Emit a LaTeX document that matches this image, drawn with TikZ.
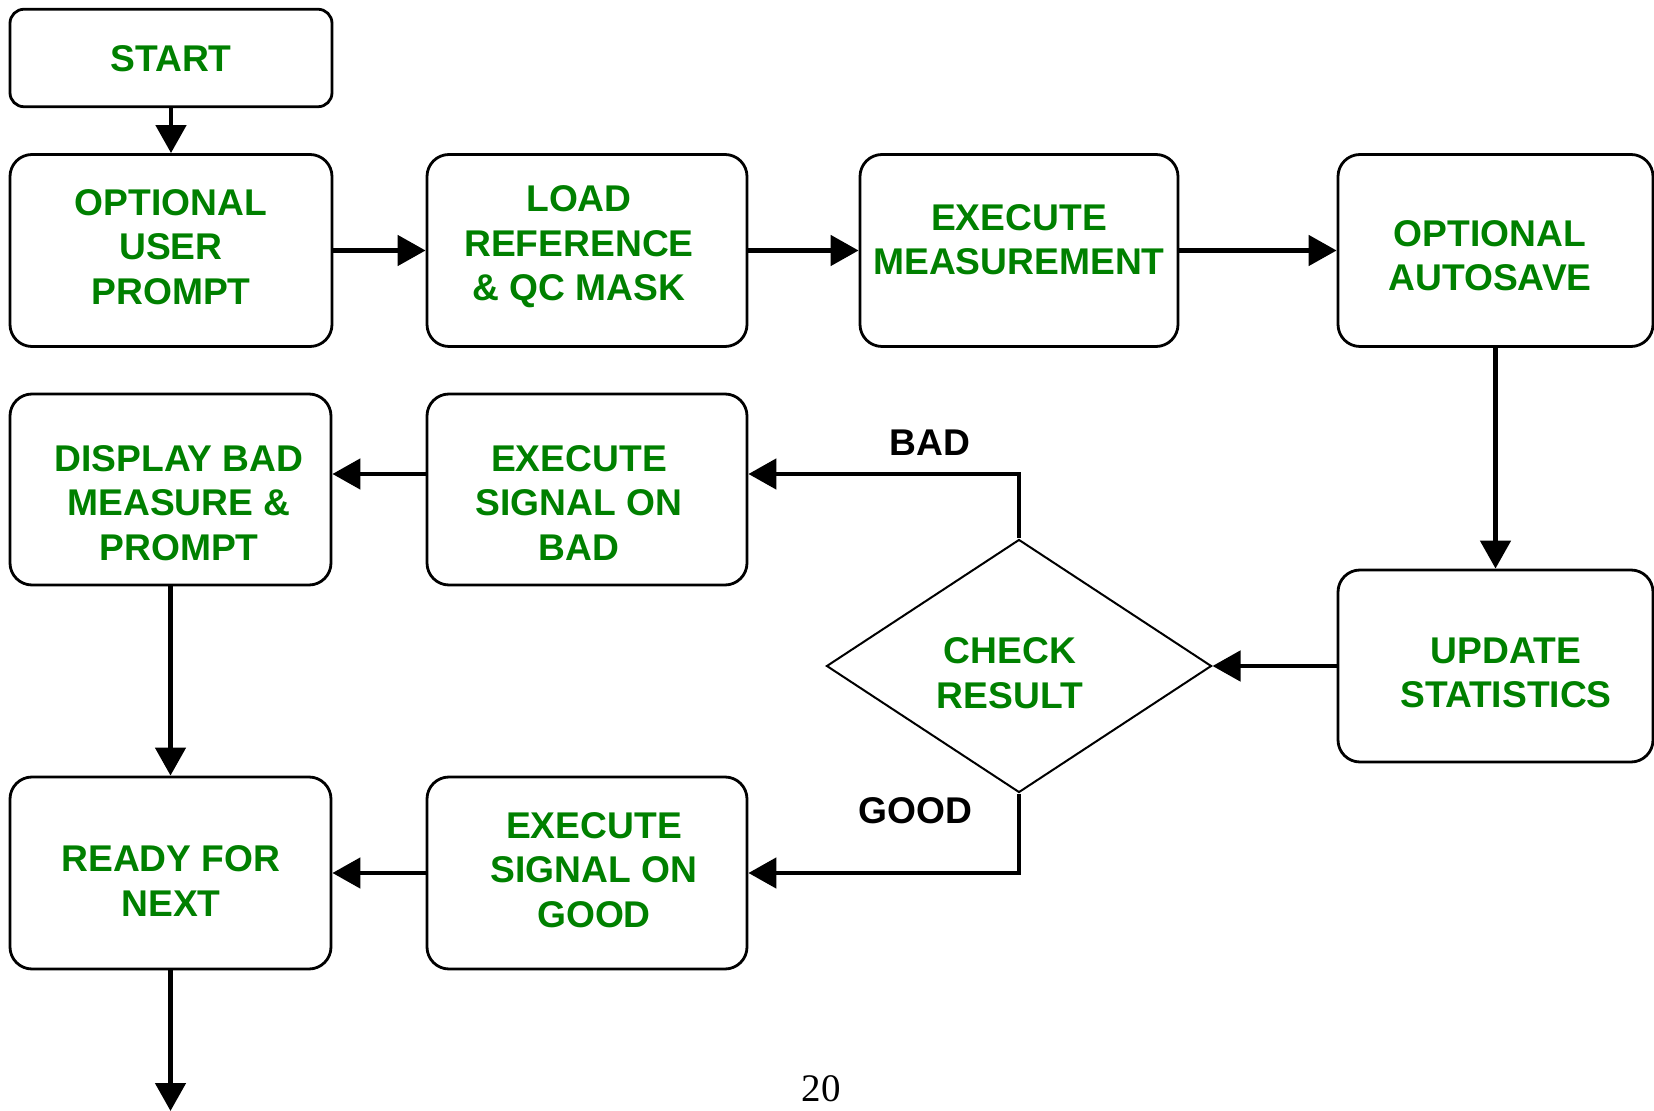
\documentclass[tikz,border=0pt]{standalone}
\usepackage{fontspec}
\setmainfont{Liberation Sans}
\newfontfamily\serifnum{Liberation Serif}
\usetikzlibrary{arrows.meta,shapes.geometric}
\definecolor{tgreen}{RGB}{0,128,0}
\begin{document}
\begin{tikzpicture}[x=0.5pt,y=-0.5pt,
  box/.style={draw, line width=1.4pt, rounded corners=11pt, inner sep=0pt,
    minimum width=160pt, minimum height=96pt},
  lbl/.style={text=tgreen, font=\bfseries\fontsize{18.6}{22.2}\selectfont, align=center, inner sep=0pt},
  yn/.style={text=black, font=\bfseries\fontsize{18.6}{22.2}\selectfont, inner sep=0pt},
  conn/.style={line width=2.4pt, -{Triangle[length=14pt,width=15pt]}},
  plain/.style={line width=2.4pt}]
\useasboundingbox (0,0) rectangle (1654,1111);
% boxes
\node[box, rounded corners=7pt, minimum width=161pt, minimum height=48.75pt] (start) at (171,58) {};
\node[box, minimum width=161pt] (opu) at (171,250.5) {};
\node[box] (load) at (587,250.5) {};
\node[box, minimum width=159pt] (exec) at (1019,250.5) {};
\node[box, minimum width=157.5pt] (auto) at (1495.5,250.5) {};
\node[box, minimum width=160.5pt, minimum height=95.5pt] (disp) at (170.5,489.5) {};
\node[box, minimum height=95.5pt] (sbad) at (587,489.5) {};
\node[box, minimum width=157.5pt] (upd) at (1495.5,666) {};
\node[box, minimum width=160.5pt] (ready) at (170.5,873) {};
\node[box] (sgood) at (587,873) {};
\node[draw, diamond, line width=1pt, inner sep=0pt, minimum width=192.5pt, minimum height=126.5pt] (dia) at (1019,666) {};
% texts
\node[lbl] (tstart) at (171,59) {START};
\node[lbl] (topu) at (171,247) {OPTIONAL\\USER\\PROMPT};
\node[lbl] (tload) at (579,247) {LOAD\\REFERENCE\\\& QC MASK};
\node[lbl] (texec) at (1019,240) {EXECUTE\\MEASUREMENT};
\node[lbl] (tauto) at (1490,256) {OPTIONAL\\AUTOSAVE};
\node[lbl] (tdisp) at (179,503) {DISPLAY BAD\\MEASURE \&\\PROMPT};
\node[lbl] (tsbad) at (579,503) {EXECUTE\\SIGNAL ON\\BAD};
\node[lbl] (tchk) at (1010,673) {CHECK\\RESULT};
\node[lbl] (tupd) at (1506,673) {UPDATE\\STATISTICS};
\node[lbl] (tready) at (171,881) {READY FOR\\NEXT};
\node[lbl] (tsgood) at (594,870) {EXECUTE\\SIGNAL ON\\GOOD};
\node[yn] (bad) at (930,443) {BAD};
\node[yn] (good) at (915,811) {GOOD};
\node[anchor=base, inner sep=0pt, font=\serifnum\fontsize{19.5}{24}\selectfont] (pg) at (821,1101) {20};
% connectors
\draw[conn] (start.south) -- (opu.north);
\draw[conn] (opu.east) -- (load.west);
\draw[conn] (load.east) -- (exec.west);
\draw[conn] (exec.east) -- (auto.west);
\draw[conn] (auto.south) -- (upd.north);
\draw[conn] (upd.west) -- (dia.east);
\draw[conn] (dia.north) |- ([yshift=7.75pt]sbad.east);
\draw[conn] ([yshift=7.75pt]sbad.west) -- ([yshift=7.75pt]disp.east);
\draw[conn] (disp.south) -- (ready.north);
\draw[conn] (dia.south) |- (sgood.east);
\draw[conn] (sgood.west) -- (ready.east);
\coordinate (endpt) at (170.5,1111);
\draw[conn] (ready.south) -- (endpt);
\end{tikzpicture}
\end{document}
